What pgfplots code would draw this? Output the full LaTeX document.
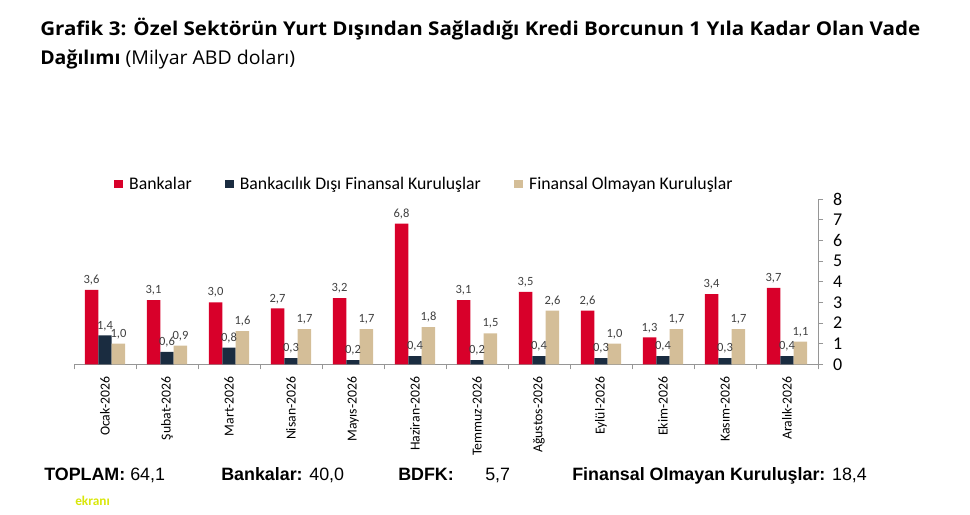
\documentclass[border=0pt]{standalone}
\usepackage{pgfplots}
\pgfplotsset{compat=1.18}
\usepackage{fontspec}
\setmainfont{Carlito}
\newfontfamily\titlefont{Open Sans}
\newfontfamily\arialfont{Liberation Sans}
\definecolor{cred}{RGB}{216,0,42}
\definecolor{cnavy}{RGB}{26,44,64}
\definecolor{ctan}{RGB}{212,190,152}
\definecolor{caxis}{RGB}{150,150,150}
\definecolor{clabel}{RGB}{64,64,64}
\newlength\tlw
\newcommand\lineone{\titlefont\fontsize{14.25}{19}\selectfont\bfseries Grafik 3: Özel Sektörün Yurt Dışından Sağladığı Kredi Borcunun 1 Yıla Kadar Olan Vade}
\begin{document}
\settowidth\tlw{\lineone}%
\pgfmathsetmacro\tsc{660/\tlw}%
\pgfmathsetmacro\tscb{0.95*\tsc}%
\begin{tikzpicture}
\begin{scope}[x=0.75pt,y=-0.75pt]
\path (0,0) rectangle (970,514);
\node[anchor=base west,inner sep=0pt] at (40,36) {\scalebox{\tsc}[1]{\lineone}};
\node[anchor=base west,inner sep=0pt] at (40,64) {\scalebox{\tscb}[1]{\titlefont\fontsize{14.25}{19}\selectfont{\bfseries Dağılımı} (Milyar ABD doları)}};
% totals
\tikzset{tot/.style={anchor=base west,inner sep=0pt,font=\arialfont\fontsize{13.4}{15}\selectfont}}
\node[tot] at (44,480) {\textbf{TOPLAM:} 64,1};
\node[tot] at (221,480) {\textbf{Bankalar:} 40,0};
\node[tot] at (398,480) {\textbf{BDFK:}};
\node[tot] at (485,480) {5,7};
\node[tot] at (572,480) {\textbf{Finansal Olmayan Kuruluşlar:} 18,4};
\node[anchor=base west,inner sep=0pt,font=\fontsize{10}{12}\selectfont\bfseries,text=yellow!85!green] at (75,505) {ekranı};
\end{scope}
\begin{axis}[
  at={(55.5pt,-273.2pt)}, anchor=south west, scale only axis,
  width=558pt, height=124pt,
  xmin=-0.5, xmax=11.5, ymin=0, ymax=8,
  axis x line*=bottom, axis y line*=right,
  axis line style={draw=caxis, line width=0.6pt},
  ybar=0pt, bar width=10.1pt,
  xtick={0,...,11},
  xticklabels={Ocak-2026,Şubat-2026,Mart-2026,Nisan-2026,Mayıs-2026,Haziran-2026,Temmuz-2026,Ağustos-2026,Eylül-2026,Ekim-2026,Kasım-2026,Aralık-2026},
  major x tick style={draw=none},
  minor xtick={-0.5,0.5,...,11.5},
  minor x tick style={draw=caxis, line width=0.6pt},
  x tick label style={rotate=90, anchor=east, font=\fontsize{10.3}{12}\selectfont, text=black, xshift=-2pt},
  ytick={0,...,8},
  y tick style={draw=caxis, line width=0.6pt},
  y tick label style={font=\fontsize{13.5}{15}\selectfont, text=black},
  yticklabel style={xshift=4pt},
  /pgf/number format/assume math mode=true,
  tick align=outside,
  major tick length=3.8pt, minor tick length=3.8pt,
  nodes near coords,
  nodes near coords style={font=\fontsize{9.4}{10}\selectfont, text=clabel, /pgf/number format/.cd, use comma, fixed, fixed zerofill, precision=1, assume math mode=true},
  legend style={draw=none, fill=none, at={(0.054,1.09)}, anchor=west, legend columns=3, font=\fontsize{13.3}{15}\selectfont, inner sep=0pt,
    /tikz/every odd column/.append style={column sep=2.5pt},
    /tikz/every even column/.append style={column sep=23pt}},
  legend image code/.code={\fill[#1] (0pt,-3.3pt) rectangle (6.6pt,3.3pt);},
  clip=false,
]
\addplot[fill=cred, draw=none] coordinates {(0,3.6) (1,3.1) (2,3.0) (3,2.7) (4,3.2) (5,6.8) (6,3.1) (7,3.5) (8,2.6) (9,1.3) (10,3.4) (11,3.7)};
\addplot[fill=cnavy, draw=none] coordinates {(0,1.4) (1,0.6) (2,0.8) (3,0.3) (4,0.2) (5,0.4) (6,0.2) (7,0.4) (8,0.3) (9,0.4) (10,0.3) (11,0.4)};
\addplot[fill=ctan, draw=none] coordinates {(0,1.0) (1,0.9) (2,1.6) (3,1.7) (4,1.7) (5,1.8) (6,1.5) (7,2.6) (8,1.0) (9,1.7) (10,1.7) (11,1.1)};
\legend{Bankalar, Bankacılık Dışı Finansal Kuruluşlar, Finansal Olmayan Kuruluşlar}
\end{axis}
\end{tikzpicture}
\end{document}
